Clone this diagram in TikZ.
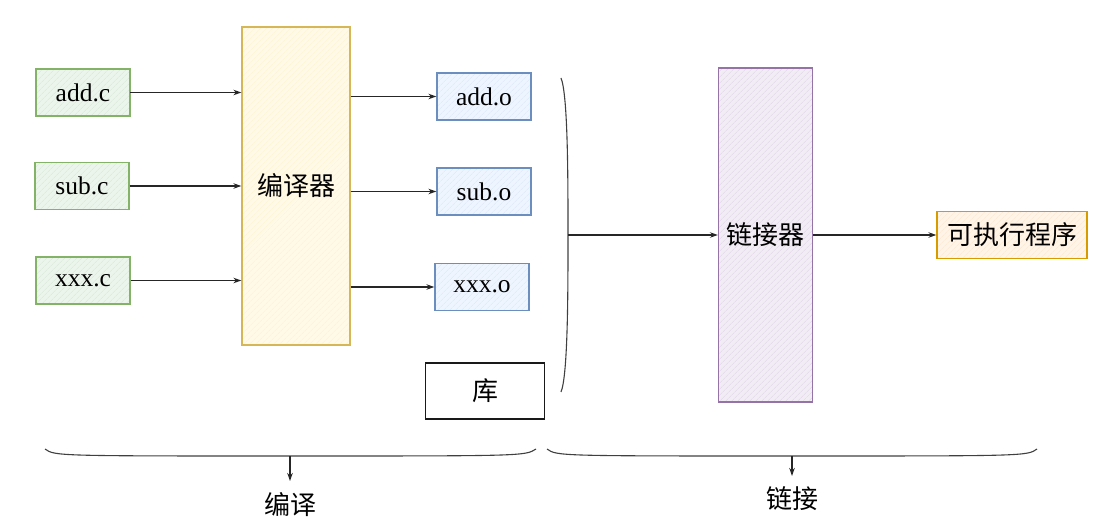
\documentclass[tikz,border=0pt]{standalone}
\usepackage{fontspec}
\newfontfamily\cjk{Noto Sans CJK SC}
\newfontfamily\lat{Liberation Serif}
\usetikzlibrary{arrows.meta,patterns.meta}
\definecolor{gS}{HTML}{82B366}\definecolor{gF}{HTML}{D5E8D4}
\definecolor{bS}{HTML}{6C8EBF}\definecolor{bF}{HTML}{DAE8FC}
\definecolor{yS}{HTML}{D6B656}\definecolor{yF}{HTML}{FFF2CC}
\definecolor{pS}{HTML}{9673A6}\definecolor{pF}{HTML}{E1D5E7}
\definecolor{oS}{HTML}{D79B00}\definecolor{oF}{HTML}{FFE6CC}
\tikzset{
  box/.style={draw, line width=1.3pt, inner sep=0pt, font=\lat\fontsize{25.5}{28}\selectfont},
  hatch/.style 2 args={draw=#1, preaction={fill=#2!45!white},
     pattern={Lines[angle=45,distance=4pt,line width=0.5pt]}, pattern color=#2},
  srcbox/.style={box, hatch={gS}{gF}, minimum width=94pt, minimum height=47pt},
  objbox/.style={box, hatch={bS}{bF}, minimum width=94pt, minimum height=47pt},
  cjkfont/.style={font=\cjk\fontsize{26}{30}\selectfont},
  arr/.style={-{Stealth[length=8pt,width=5.5pt]}, line width=1.2pt, draw=black!85},
  curve/.style={line width=1.1pt, draw=black!75},
}
\begin{document}
\begin{tikzpicture}[x=1pt,y=-1pt]
\useasboundingbox (0,0) rectangle (1099,526);
% sources
\node[srcbox] (addc) at (83,92.5) {add.c};
\node[srcbox] (subc) at (82,186) {sub.c};
\node[srcbox] (xxxc) at (83,280.5) {xxx.c};
% compiler
\node[box, hatch={yS}{yF}, minimum width=108pt, minimum height=318pt, cjkfont] (comp) at (296,186) {编译器};
% objects
\node[objbox] (addo) at (484,96.5) {add.o};
\node[objbox] (subo) at (484,191.5) {sub.o};
\node[objbox] (xxxo) at (482,287) {xxx.o};
% library
\node[box, draw=black!90, fill=white, line width=1.6pt, minimum width=119pt, minimum height=56pt, cjkfont] (lib) at (485,391) {库};
% linker
\node[box, hatch={pS}{pF}, minimum width=94pt, minimum height=334pt, cjkfont] (link) at (765.5,235) {链接器};
% executable
\node[box, hatch={oS}{oF}, minimum width=150pt, minimum height=47pt, cjkfont] (exe) at (1012,235) {可执行程序};
% arrows into compiler
\draw[arr] (addc.east) -- (addc.east -| comp.west);
\draw[arr] (subc.east) -- (subc.east -| comp.west);
\draw[arr] (xxxc.east) -- (xxxc.east -| comp.west);
% arrows out of compiler
\draw[arr] (comp.east |- addo.west) -- (addo.west);
\draw[arr] (comp.east |- subo.west) -- (subo.west);
\draw[arr] (comp.east |- xxxo.west) -- (xxxo.west);
% right brace
\coordinate (btop) at (561,78);
\coordinate (bmid) at (568,235);
\coordinate (bbot) at (561,392);
\draw[curve] (btop) .. controls (568,95) and (568,180) .. (bmid) .. controls (568,290) and (568,375) .. (bbot);
\draw[arr] (bmid) -- (link.west);
\draw[arr] (link.east) -- (exe.west);
% bottom braces
\coordinate (lbl) at (45,449);
\coordinate (lbm) at (290,456);
\coordinate (lbr) at (536,449);
\coordinate (lbe) at (290,481);
\draw[curve] (lbl) .. controls (55,456) .. (lbm) .. controls (525,456) .. (lbr);
\draw[arr] (lbm) -- (lbe);
\node[cjkfont] (compl) at (290,505) {编译};
\coordinate (rbl) at (547,449);
\coordinate (rbm) at (792,456);
\coordinate (rbr) at (1037,449);
\coordinate (rbe) at (792,476);
\draw[curve] (rbl) .. controls (557,456) .. (rbm) .. controls (1027,456) .. (rbr);
\draw[arr] (rbm) -- (rbe);
\node[cjkfont] (linkl) at (792,499) {链接};
\end{tikzpicture}
\end{document}
